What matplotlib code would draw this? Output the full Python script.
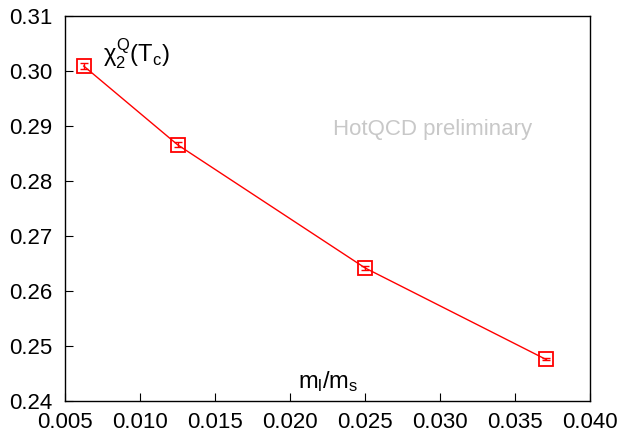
import numpy as np
import matplotlib.pyplot as plt

plt.rcParams['font.family'] = ['Liberation Sans', 'DejaVu Sans']
plt.rcParams['mathtext.fontset'] = 'custom'
plt.rcParams['mathtext.rm'] = 'Liberation Sans'
plt.rcParams['mathtext.it'] = 'Liberation Sans'

# quark mass ratio and charge susceptibility at Tc
ml_ms = [1/160, 1/80, 1/40, 1/27]
chi2q = [0.3009, 0.2866, 0.2642, 0.2476]
chi2q_err = [0.0006, 0.0005, 0.0004, 0.0002]

fig = plt.figure(figsize=(6.21, 4.34), dpi=100)
ax = fig.add_axes([65/621, 1-401/434, 525/621, 385/434])

ax.plot(ml_ms, chi2q, color='red', lw=1)
ax.errorbar(ml_ms, chi2q, yerr=chi2q_err, fmt='none', ecolor='red',
            elinewidth=1, capsize=3)
ax.plot(ml_ms, chi2q, 's', ms=10, mfc='none', mec='red', mew=1.3)

ax.set_xlim(0.005, 0.040)
ax.set_ylim(0.24, 0.31)
ax.set_xticks(np.arange(0.005, 0.0401, 0.005))
ax.set_yticks(np.arange(0.24, 0.3101, 0.01))
ax.xaxis.set_major_formatter(plt.FormatStrFormatter('%.3f'))
ax.yaxis.set_major_formatter(plt.FormatStrFormatter('%.2f'))
ax.tick_params(direction='in', length=6, labelsize=16, width=0.8)
ax.tick_params(axis='x', pad=8)
ax.tick_params(axis='y', pad=9)
for s in ax.spines.values():
    s.set_linewidth(1)

ax.text(0.00753, 0.3016, r'$\chi_2^{\mathrm{Q}}(\mathrm{T_c})$', fontsize=17,
        va='baseline')
ax.text(0.02053, 0.2424, r'$\mathrm{m_l/m_s}$', fontsize=17, va='baseline')
ax.text(0.02287, 0.2893, 'HotQCD preliminary', fontsize=16, color='#c8c8c8',
        va='center')

fig.savefig('out.png', dpi=100)
